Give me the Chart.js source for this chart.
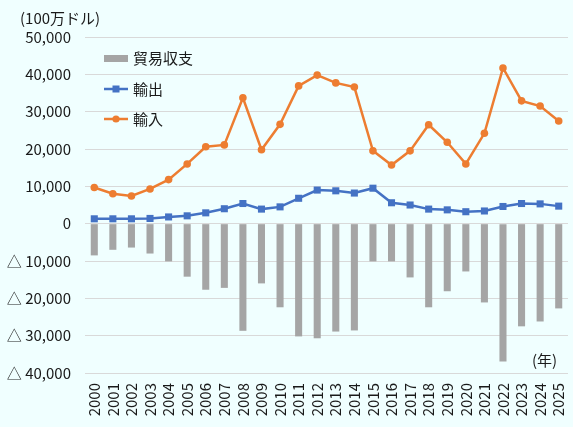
<!DOCTYPE html>
<html>
<head>
<meta charset="utf-8">
<script src="https://cdn.jsdelivr.net/npm/chart.js@4/dist/chart.umd.min.js"></script>
<style>
  body { margin: 0; background: #f0ffff; }
  #wrap { width: 573px; height: 427px; position: relative; }
</style>
</head>
<body>
<div id="wrap"><canvas id="mycanvas"></canvas></div>
<script>
var years = ['2000','2001','2002','2003','2004','2005','2006','2007','2008','2009','2010','2011','2012',
             '2013','2014','2015','2016','2017','2018','2019','2020','2021','2022','2023','2024','2025'];
var balance = [-8500,-7000,-6400,-8000,-10100,-14200,-17700,-17200,-28700,-16000,-22400,-30200,-30700,
               -28900,-28600,-10100,-10100,-14400,-22400,-18100,-12800,-21100,-36900,-27500,-26200,-22700];
var exportsVal = [1300,1300,1300,1400,1800,2100,2900,4000,5400,3900,4500,6800,9000,
                  8800,8200,9500,5600,5000,3900,3700,3200,3400,4600,5400,5300,4700];
var importsVal = [9700,8000,7400,9300,11800,16000,20600,21100,33700,19800,26600,36900,39800,
                  37700,36600,19500,15700,19500,26500,21800,16000,24200,41700,32900,31500,27500];
var legendLabels = ['貿易収支', '輸出', '輸入'];
var yTitle = '(100万ドル)';
var xTitle = '(年)';

var fontFamily = "'Noto Sans CJK JP', 'Noto Sans', sans-serif";
var textColor = '#1a1a1a';

var fmt = function(v) {
    var s = Math.abs(v).toLocaleString('en-US');
    return v < 0 ? '△ ' + s : s;
};

// background + legend + axis titles
var extras = {
    id: 'extras',
    beforeDraw: function(chart) {
        var c = chart.ctx;
        c.save();
        c.fillStyle = '#f0ffff';
        c.fillRect(0, 0, chart.width, chart.height);
        c.restore();
    },
    afterDraw: function(chart) {
        var c = chart.ctx;
        c.save();
        c.font = '15px ' + fontFamily;
        c.fillStyle = textColor;
        c.textBaseline = 'middle';
        c.textAlign = 'left';
        c.fillText(yTitle, 20, 18);
        c.fillText(xTitle, 532, 360);

        // legend
        c.fillStyle = '#a5a5a5';
        c.fillRect(104, 55, 24, 7);
        c.strokeStyle = '#4472c4';
        c.lineWidth = 2.5;
        c.beginPath(); c.moveTo(104, 89); c.lineTo(128, 89); c.stroke();
        c.fillStyle = '#4472c4';
        c.fillRect(112.5, 85.5, 7, 7);
        c.strokeStyle = '#ed7d31';
        c.beginPath(); c.moveTo(104, 119); c.lineTo(128, 119); c.stroke();
        c.fillStyle = '#ed7d31';
        c.beginPath(); c.arc(116, 119, 3.6, 0, Math.PI * 2); c.fill();

        c.fillStyle = textColor;
        c.fillText(legendLabels[0], 133, 58);
        c.fillText(legendLabels[1], 133, 89);
        c.fillText(legendLabels[2], 133, 119);
        c.restore();
    }
};

var ctx = document.getElementById('mycanvas');

var chart = new Chart(ctx, {
    type: 'bar',
    data: {
        labels: years,
        datasets: [
            {
                type: 'line',
                label: legendLabels[1],
                data: exportsVal,
                borderColor: '#4472c4',
                backgroundColor: '#4472c4',
                borderWidth: 2.5,
                pointStyle: 'rect',
                pointRadius: 5,
                pointBorderWidth: 0,
                order: 1
            },
            {
                type: 'line',
                label: legendLabels[2],
                data: importsVal,
                borderColor: '#ed7d31',
                backgroundColor: '#ed7d31',
                borderWidth: 2.5,
                pointStyle: 'circle',
                pointRadius: 3.8,
                pointBorderWidth: 0,
                order: 2
            },
            {
                label: legendLabels[0],
                data: balance,
                backgroundColor: '#a5a5a5',
                categoryPercentage: 1,
                barPercentage: 0.38,
                order: 3
            }
        ]
    },
    options: {
        responsive: true,
        maintainAspectRatio: false,
        animation: false,
        layout: { padding: { left: 0, right: 3, top: 37, bottom: 0 } },
        plugins: {
            legend: { display: false },
            tooltip: { enabled: false }
        },
        scales: {
            x: {
                grid: { display: false, drawTicks: false },
                border: { display: false },
                ticks: {
                    minRotation: 90,
                    maxRotation: 90,
                    padding: 10,
                    color: textColor,
                    font: { family: fontFamily, size: 15 },
                    autoSkip: false
                },
                afterFit: function(scale) {
                    scale.height = 54;
                    scale.paddingLeft = 0;
                    scale.paddingRight = 0;
                }
            },
            y: {
                min: -40000,
                max: 50000,
                grid: { color: '#d9d9d9', lineWidth: 1, drawTicks: false },
                border: { display: false },
                ticks: {
                    stepSize: 10000,
                    padding: 14,
                    color: textColor,
                    font: { family: fontFamily, size: 15 },
                    callback: function(v) { return fmt(v); }
                },
                afterFit: function(scale) { scale.width = 85; }
            }
        }
    },
    plugins: [extras]
});
</script>
</body>
</html>
